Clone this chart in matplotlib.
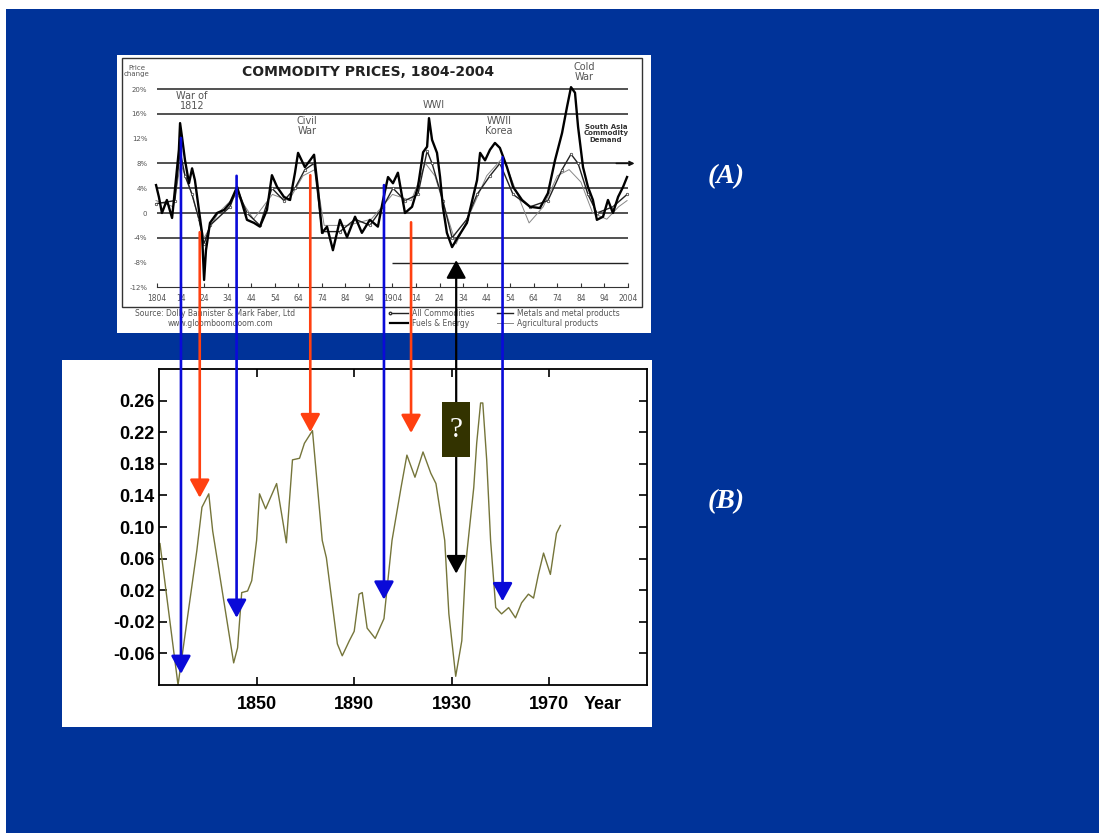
import numpy as np
import matplotlib
matplotlib.use('Agg')
import matplotlib.pyplot as plt
from matplotlib.patches import Rectangle

W, H = 1099, 833

# ---- panel B: index series
years_b = [1810.4, 1817.8, 1825.5, 1827.6, 1830.4, 1832.0, 1840.6, 1842.2, 1843.9, 1846.3,
           1848.0, 1850.0, 1851.2, 1853.7, 1858.2, 1862.2, 1864.7, 1867.6, 1869.6, 1872.9,
           1876.9, 1878.6, 1883.1, 1885.1, 1888.0, 1890.0, 1892.0, 1893.3, 1895.3, 1898.6,
           1902.2, 1905.5, 1909.2, 1911.6, 1914.9, 1918.2, 1921.4, 1923.5, 1927.1, 1928.8,
           1931.6, 1934.1, 1935.7, 1939.0, 1940.2, 1941.8, 1942.7, 1944.3, 1945.9, 1948.0,
           1950.4, 1953.3, 1956.1, 1958.6, 1961.4, 1963.5, 1965.5, 1967.6, 1970.4, 1972.9,
           1974.5]
index_b = [0.079, -0.100, 0.070, 0.125, 0.142, 0.095, -0.072, -0.053, 0.017, 0.019,
           0.032, 0.083, 0.142, 0.123, 0.155, 0.080, 0.185, 0.187, 0.206, 0.222,
           0.083, 0.061, -0.048, -0.063, -0.044, -0.032, 0.015, 0.017, -0.028, -0.041,
           -0.016, 0.083, 0.150, 0.191, 0.163, 0.195, 0.168, 0.155, 0.083, -0.010,
           -0.089, -0.044, 0.053, 0.150, 0.206, 0.257, 0.257, 0.185, 0.083, -0.002,
           -0.010, -0.002, -0.015, 0.004, 0.015, 0.010, 0.040, 0.067, 0.040, 0.092,
           0.102]
yticks_b = [0.26, 0.22, 0.18, 0.14, 0.10, 0.06, 0.02, -0.02, -0.06]
xticks_b = [1850, 1890, 1930, 1970]

# ---- panel A: commodity price change (%)
years_fuel = [1803.6, 1804.8, 1806.1, 1808.2, 1810.4, 1811.6, 1813.3, 1813.8, 1814.6, 1815.9,
              1817.6, 1818.9, 1820.1, 1821.8, 1823.1, 1824.0, 1824.8, 1826.5, 1829.5, 1832.5,
              1835.0, 1838.0, 1840.1, 1842.2, 1845.2, 1847.7, 1850.7, 1852.8, 1855.0, 1857.9,
              1860.5, 1862.6, 1863.9, 1866.8, 1869.0, 1870.7, 1872.4, 1874.1, 1876.2, 1878.7,
              1881.7, 1884.7, 1888.1, 1891.0, 1894.4, 1897.8, 1900.0, 1902.1, 1904.2, 1906.3,
              1909.3, 1912.3, 1914.8, 1917.0, 1918.7, 1919.5, 1920.8, 1922.9, 1924.2, 1925.4,
              1927.1, 1929.3, 1931.8, 1935.6, 1939.9, 1941.2, 1943.3, 1945.4, 1947.5, 1949.6,
              1952.6, 1955.2, 1959.0, 1962.4, 1966.6, 1970.0, 1973.0, 1976.0, 1978.1, 1979.8,
              1981.5, 1982.8, 1984.9, 1987.0, 1989.1, 1990.8, 1993.4, 1995.5, 1997.6, 1999.8,
              2001.9, 2003.6]
pct_fuel = [4.5, 2.6, 0.0, 2.1, -0.8, 3.7, 10.2, 14.5, 12.3, 8.5,
            4.8, 7.2, 5.3, 0.5, -3.2, -10.8, -6.0, -1.6, 0.0, 0.5,
            1.6, 4.2, 1.6, -1.1, -1.6, -2.2, 0.5, 6.1, 4.2, 2.6,
            2.1, 6.5, 9.7, 7.4, 8.5, 9.4, 3.7, -3.2, -2.2, -6.0,
            -1.1, -3.9, -0.6, -3.2, -1.1, -2.2, 2.1, 5.8, 4.8, 6.5,
            0.0, 1.0, 4.2, 9.8, 10.7, 15.3, 11.8, 9.7, 5.8, 1.0,
            -3.2, -5.5, -3.9, -1.6, 5.3, 9.7, 8.5, 10.2, 11.3, 10.5,
            7.4, 4.2, 2.1, 1.0, 0.8, 3.2, 8.5, 12.9, 17.1, 20.3,
            19.4, 13.9, 7.4, 4.2, 2.1, -1.1, -0.6, 2.1, 0.0, 2.6,
            4.2, 5.8]

years_all = [1803.6, 1811.6, 1813.8, 1815.9, 1818.9, 1821.8, 1824.0, 1826.5, 1835.0, 1838.0,
             1842.2, 1847.7, 1852.8, 1857.9, 1862.6, 1866.8, 1870.7, 1874.1, 1881.7, 1888.1,
             1894.4, 1900.0, 1904.2, 1909.3, 1914.8, 1918.7, 1920.8, 1925.4, 1929.3, 1935.6,
             1939.9, 1945.4, 1949.6, 1955.2, 1962.4, 1970.0, 1976.0, 1979.8, 1982.8, 1987.0,
             1990.8, 1997.6, 2003.6]
pct_all = [1.5, 2.0, 10.0, 6.0, 3.0, -1.0, -5.0, -2.0, 1.0, 4.0,
           0.0, -2.0, 4.0, 2.0, 4.0, 7.0, 8.0, -3.0, -3.0, -1.0,
           -2.0, 1.0, 4.0, 2.0, 3.0, 10.0, 8.0, 2.0, -4.0, -1.0,
           3.0, 6.0, 8.0, 3.0, 1.0, 2.0, 7.0, 9.5, 8.0, 3.0,
           0.0, 1.0, 3.0]

years_agri = [1803.6, 1811.0, 1814.0, 1818.0, 1824.0, 1830.0, 1838.0, 1845.0, 1853.0, 1860.0,
              1866.0, 1871.0, 1875.0, 1885.0, 1895.0, 1904.0, 1912.0, 1918.0, 1922.0, 1926.0,
              1931.0, 1937.0, 1944.0, 1951.0, 1956.0, 1962.0, 1968.0, 1974.0, 1979.0, 1984.0,
              1989.0, 1995.0, 2000.0, 2003.6]
pct_agri = [2.0, 1.0, 8.0, 4.0, -4.0, 0.0, 3.0, -1.0, 3.0, 2.0,
            6.0, 7.0, -2.0, -2.0, -1.0, 3.0, 2.0, 8.0, 6.0, 1.0,
            -5.0, 0.0, 6.0, 9.0, 4.0, -1.6, 1.0, 6.0, 7.0, 5.0,
            0.0, -1.0, 1.0, 2.0]

ticks_a = list(range(1804, 2005, 10))
tick_labels_a = ['1804', '14', '24', '34', '44', '54', '64', '74', '84', '94',
                 '1904', '14', '24', '34', '44', '54', '64', '74', '84', '94', '2004']
levels_a = [20, 16, 12, 8, 4, 0, -4, -8, -12]
level_labels_a = ['20%', '16%', '12%', '8%', '4%', '0', '-4%', '-8%', '-12%']

# arrows: (year in B, tip value in B, start % in A)
blue_arrows = [(1819.0, -0.086, 12.1), (1841.8, -0.015, 6.0),
               (1902.2, 0.008, 4.5), (1950.8, 0.006, 9.0)]
red_arrows = [(1826.7, 0.137, -3.1), (1872.0, 0.220, 6.1), (1913.3, 0.219, -1.5)]
black_arrow = (1931.8, 0.041, -7.6)


def box(l, t, r, b):
    return [l / W, 1 - b / H, (r - l) / W, (b - t) / H]


fig = plt.figure(figsize=(W / 100, H / 100), dpi=100)
fig.patch.set_facecolor('white')

fig.add_artist(Rectangle((6 / W, 0), 1 - 6 / W, 1 - 9 / H, transform=fig.transFigure,
                         facecolor='#003399', edgecolor='none', zorder=-3))
for l, t, r, b in [(117, 55, 651, 333), (62, 360, 652, 727)]:
    fig.add_artist(Rectangle((l / W, 1 - b / H), (r - l) / W, (b - t) / H,
                             transform=fig.transFigure, facecolor='white',
                             edgecolor='none', zorder=-2))

# ---------------- panel A
axA = fig.add_axes(box(150, 60, 636, 290))
axA.set_xlim(1801.03, 2007.4)
axA.set_ylim(-12.42, 24.68)
axA.patch.set_visible(False)
for s in ['top', 'right', 'left']:
    axA.spines[s].set_visible(False)
axA.spines['bottom'].set_position(('data', -12))
axA.spines['bottom'].set_bounds(1804, 2004)
axA.spines['bottom'].set_color('#333333')
axA.set_xticks(ticks_a)
axA.set_xticklabels(tick_labels_a)
axA.tick_params(axis='x', direction='in', length=3, labelsize=5.5, pad=5,
                labelcolor='#555555', color='#333333')
axA.set_yticks(levels_a)
axA.set_yticklabels(level_labels_a)
axA.tick_params(axis='y', length=0, labelsize=5, pad=2, labelcolor='#555555')

axA.hlines([20, 16, 8, 4, 0, -4], 1804, 2004, color='#222222', lw=1.1, zorder=1)
axA.hlines([-8], 1904, 2004, color='#222222', lw=1.0, zorder=1)
axA.annotate('', xy=(2006.8, 8), xytext=(1999, 8),
             arrowprops=dict(arrowstyle='-|>', color='#111111', lw=1.1,
                             mutation_scale=7, shrinkA=0, shrinkB=0))

axA.plot(years_agri, pct_agri, color='#888888', lw=0.7, zorder=2)
axA.plot(years_all, pct_all, color='#222222', lw=1.0, marker='o', ms=1.8,
         mfc='white', mec='#333333', mew=0.5, zorder=3)
axA.plot(years_fuel, pct_fuel, color='black', lw=1.7, zorder=4)

# ---------------- panel B
axB = fig.add_axes(box(159, 369, 647, 685))
axB.set_xlim(1810, 2010)
axB.set_ylim(-0.10, 0.30)
axB.plot(years_b, index_b, color='#75753a', lw=1.0)
axB.set_yticks(yticks_b)
axB.set_yticklabels([f'{v:.2f}' for v in yticks_b])
axB.set_xticks(xticks_b)
axB.tick_params(direction='in', length=6, width=1.2, labelsize=13, pad=8,
                top=True, right=True, labelright=False, labeltop=False)
axB.tick_params(axis='y', pad=3)
for lab in axB.get_xticklabels() + axB.get_yticklabels():
    lab.set_family('Liberation Sans')
    lab.set_weight('bold')
for s in axB.spines.values():
    s.set_linewidth(1.3)
axB.annotate('Year', xy=(1992, 0), xycoords=('data', 'axes fraction'),
             xytext=(0, -8), textcoords='offset points', ha='center', va='top',
             fontsize=13, weight='bold', family='Liberation Sans')

# ---------------- overlay in pixel coords
ov = fig.add_axes([0, 0, 1, 1])
ov.set_xlim(0, W)
ov.set_ylim(H, 0)
ov.axis('off')
ov.patch.set_visible(False)
ov.set_zorder(5)


def to_px(ax, x, y):
    dx, dy = ax.transData.transform((x, y))
    return dx, H - dy


def a_y(pct):
    return to_px(axA, 1900, pct)[1]


# frame of scanned chart
ov.add_patch(Rectangle((122, 58), 520, 249, fill=False, edgecolor='#333333', lw=1.0))

txt = dict(color='#555555', ha='center', va='center', linespacing=0.95)
ov.text(368, 72, 'COMMODITY PRICES, 1804-2004', fontsize=10, weight='bold',
        color='#222222', ha='center', va='center')
ov.text(137, 71, 'Price\nchange', fontsize=5, **txt)
ov.text(192, 101, 'War of\n1812', fontsize=7, **txt)
ov.text(307, 126, 'Civil\nWar', fontsize=7, **txt)
ov.text(434, 105, 'WWI', fontsize=7, **txt)
ov.text(499, 126, 'WWII\nKorea', fontsize=7, **txt)
ov.text(584, 72, 'Cold\nWar', fontsize=7, **txt)
ov.text(606, 133, 'South Asia\nCommodity\nDemand', fontsize=5, weight='bold',
        color='#333333', ha='center', va='center', linespacing=1.1)
ov.text(135, 313, 'Source: Dolly Bannister & Mark Faber, Ltd', fontsize=5.5,
        color='#555555', ha='left', va='center')
ov.text(220, 323, 'www.gloomboomdoom.com', fontsize=5.5, color='#555555',
        ha='center', va='center')
ov.plot([390, 408], [313, 313], color='#222222', lw=1.0, marker='o', ms=1.8,
        mfc='white', mec='#333333', markevery=[0])
ov.text(412, 313, 'All Commodities', fontsize=5.5, color='#555555', va='center')
ov.plot([390, 408], [323, 323], color='black', lw=1.6)
ov.text(412, 323, 'Fuels & Energy', fontsize=5.5, color='#555555', va='center')
ov.plot([497, 513], [313, 313], color='#222222', lw=1.0)
ov.text(517, 313, 'Metals and metal products', fontsize=5.5, color='#555555', va='center')
ov.plot([497, 513], [323, 323], color='#888888', lw=0.7)
ov.text(517, 323, 'Agricultural products', fontsize=5.5, color='#555555', va='center')

# connecting arrows
head = 'head_length=0.55,head_width=0.3'
for arrows, col in [(blue_arrows, '#0a0ad8'), (red_arrows, '#ff4010')]:
    for yr, tip, start in arrows:
        x, y_tip = to_px(axB, yr, tip)
        ov.annotate('', xy=(x, y_tip), xytext=(x, a_y(start)),
                    arrowprops=dict(arrowstyle='-|>,' + head, color=col, lw=1.9,
                                    mutation_scale=20, shrinkA=0, shrinkB=0))

yr, tip, start = black_arrow
x, y_tip = to_px(axB, yr, tip)
ov.annotate('', xy=(x, y_tip), xytext=(x, a_y(start)),
            arrowprops=dict(arrowstyle='<|-|>,' + head, color='black', lw=1.6,
                            mutation_scale=20, shrinkA=0, shrinkB=0))
_, q_top = to_px(axB, yr, 0.258)
_, q_bot = to_px(axB, yr, 0.188)
ov.add_patch(Rectangle((x - 14, q_top), 28, q_bot - q_top, facecolor='#333300',
                       edgecolor='none', zorder=6))
ov.text(x, (q_top + q_bot) / 2, '?', color='white', fontsize=21,
        family='Liberation Serif', ha='center', va='center', zorder=7)

ov.text(726, 177, '(A)', color='white', fontsize=20, weight='bold', style='italic',
        family='Liberation Serif', ha='center', va='center')
ov.text(726, 502, '(B)', color='white', fontsize=20, weight='bold', style='italic',
        family='Liberation Serif', ha='center', va='center')

fig.savefig('out.png', dpi=100, facecolor=fig.get_facecolor())
